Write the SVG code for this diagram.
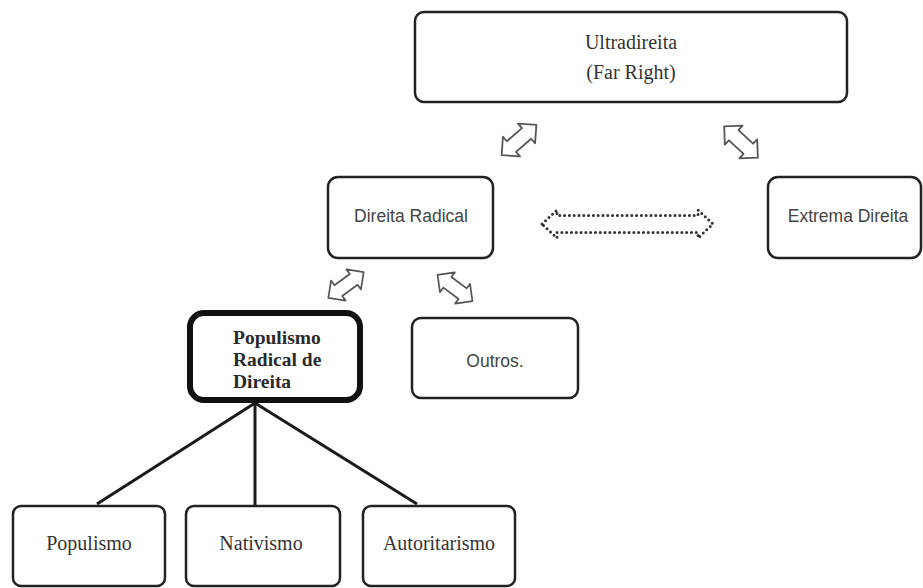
<svg xmlns="http://www.w3.org/2000/svg" width="923" height="588" viewBox="0 0 923 588">
  <style>
    .box { fill: #fff; stroke: #222; stroke-width: 2.5; }
    .main { fill: #fff; stroke: #111; stroke-width: 6; }
    .serif { font-family: "Liberation Serif", "Times New Roman", serif; font-size: 20px; fill: #333; }
    .bold { font-family: "Liberation Serif", "Times New Roman", serif; font-size: 19.5px; font-weight: bold; fill: #2a2a2a; }
    .sans { font-family: "Liberation Sans", Arial, sans-serif; font-size: 17.5px; fill: #444; }
    .link { stroke: #1a1a1a; stroke-width: 3; fill: none; }
    .block { fill: #fff; stroke: #555; stroke-width: 1.8; stroke-linejoin: round; }
    .dots { fill: #fff; stroke: #333; stroke-width: 3; stroke-dasharray: 0 4.8; stroke-linecap: round; }
  </style>
  <defs>
    <!-- hollow double-headed block arrow, centred on the origin, along x -->
    <polygon id="dbl" points="-23,0 -10,-13 -10,-7 10,-7 10,-13 23,0 10,13 10,7 -10,7 -10,13"/>
  </defs>

  <rect width="923" height="588" fill="#fff"/>

  <g id="connectors">
    <line class="link" x1="255" y1="403" x2="97" y2="504"/>
    <line class="link" x1="255" y1="403" x2="255" y2="506"/>
    <line class="link" x1="255" y1="403" x2="417" y2="504"/>
    <use href="#dbl" class="block" transform="translate(519,140) rotate(-41)"/>
    <use href="#dbl" class="block" transform="translate(741,142) rotate(43)"/>
    <use href="#dbl" class="block" transform="translate(346,285) rotate(-36) scale(0.95)"/>
    <use href="#dbl" class="block" transform="translate(455,288) rotate(37) scale(0.95)"/>
    <polygon class="dots" points="542,224 557,210 557,215.5 698,215.5 698,210 713,224 698,238 698,232.5 557,232.5 557,238"/>
  </g>

  <g id="ultradireita">
    <rect class="box" x="415" y="12" width="432" height="90" rx="9"/>
    <text class="serif" x="631" y="49" text-anchor="middle">Ultradireita</text>
    <text class="serif" x="631" y="79" text-anchor="middle">(Far Right)</text>
  </g>

  <g id="direita-radical">
    <rect class="box" x="328" y="177" width="165" height="81" rx="10"/>
    <text class="sans" x="411" y="222" text-anchor="middle">Direita Radical</text>
  </g>

  <g id="extrema-direita">
    <rect class="box" x="768" y="177" width="153" height="81" rx="10"/>
    <text class="sans" x="848" y="222" text-anchor="middle">Extrema Direita</text>
  </g>

  <g id="populismo-radical">
    <rect class="main" x="190" y="313" width="170" height="87" rx="14"/>
    <text class="bold" x="233" y="344">Populismo</text>
    <text class="bold" x="233" y="366">Radical de</text>
    <text class="bold" x="233" y="388">Direita</text>
  </g>

  <g id="outros">
    <rect class="box" x="412" y="318" width="166" height="80" rx="9"/>
    <text class="sans" x="495" y="367" text-anchor="middle">Outros.</text>
  </g>

  <g id="populismo">
    <rect class="box" x="13" y="506" width="152" height="80" rx="8"/>
    <text class="serif" x="89" y="550" text-anchor="middle">Populismo</text>
  </g>

  <g id="nativismo">
    <rect class="box" x="186" y="506" width="154" height="80" rx="8"/>
    <text class="serif" x="261" y="550" text-anchor="middle">Nativismo</text>
  </g>

  <g id="autoritarismo">
    <rect class="box" x="363" y="506" width="152" height="80" rx="8"/>
    <text class="serif" x="439" y="550" text-anchor="middle">Autoritarismo</text>
  </g>
</svg>
